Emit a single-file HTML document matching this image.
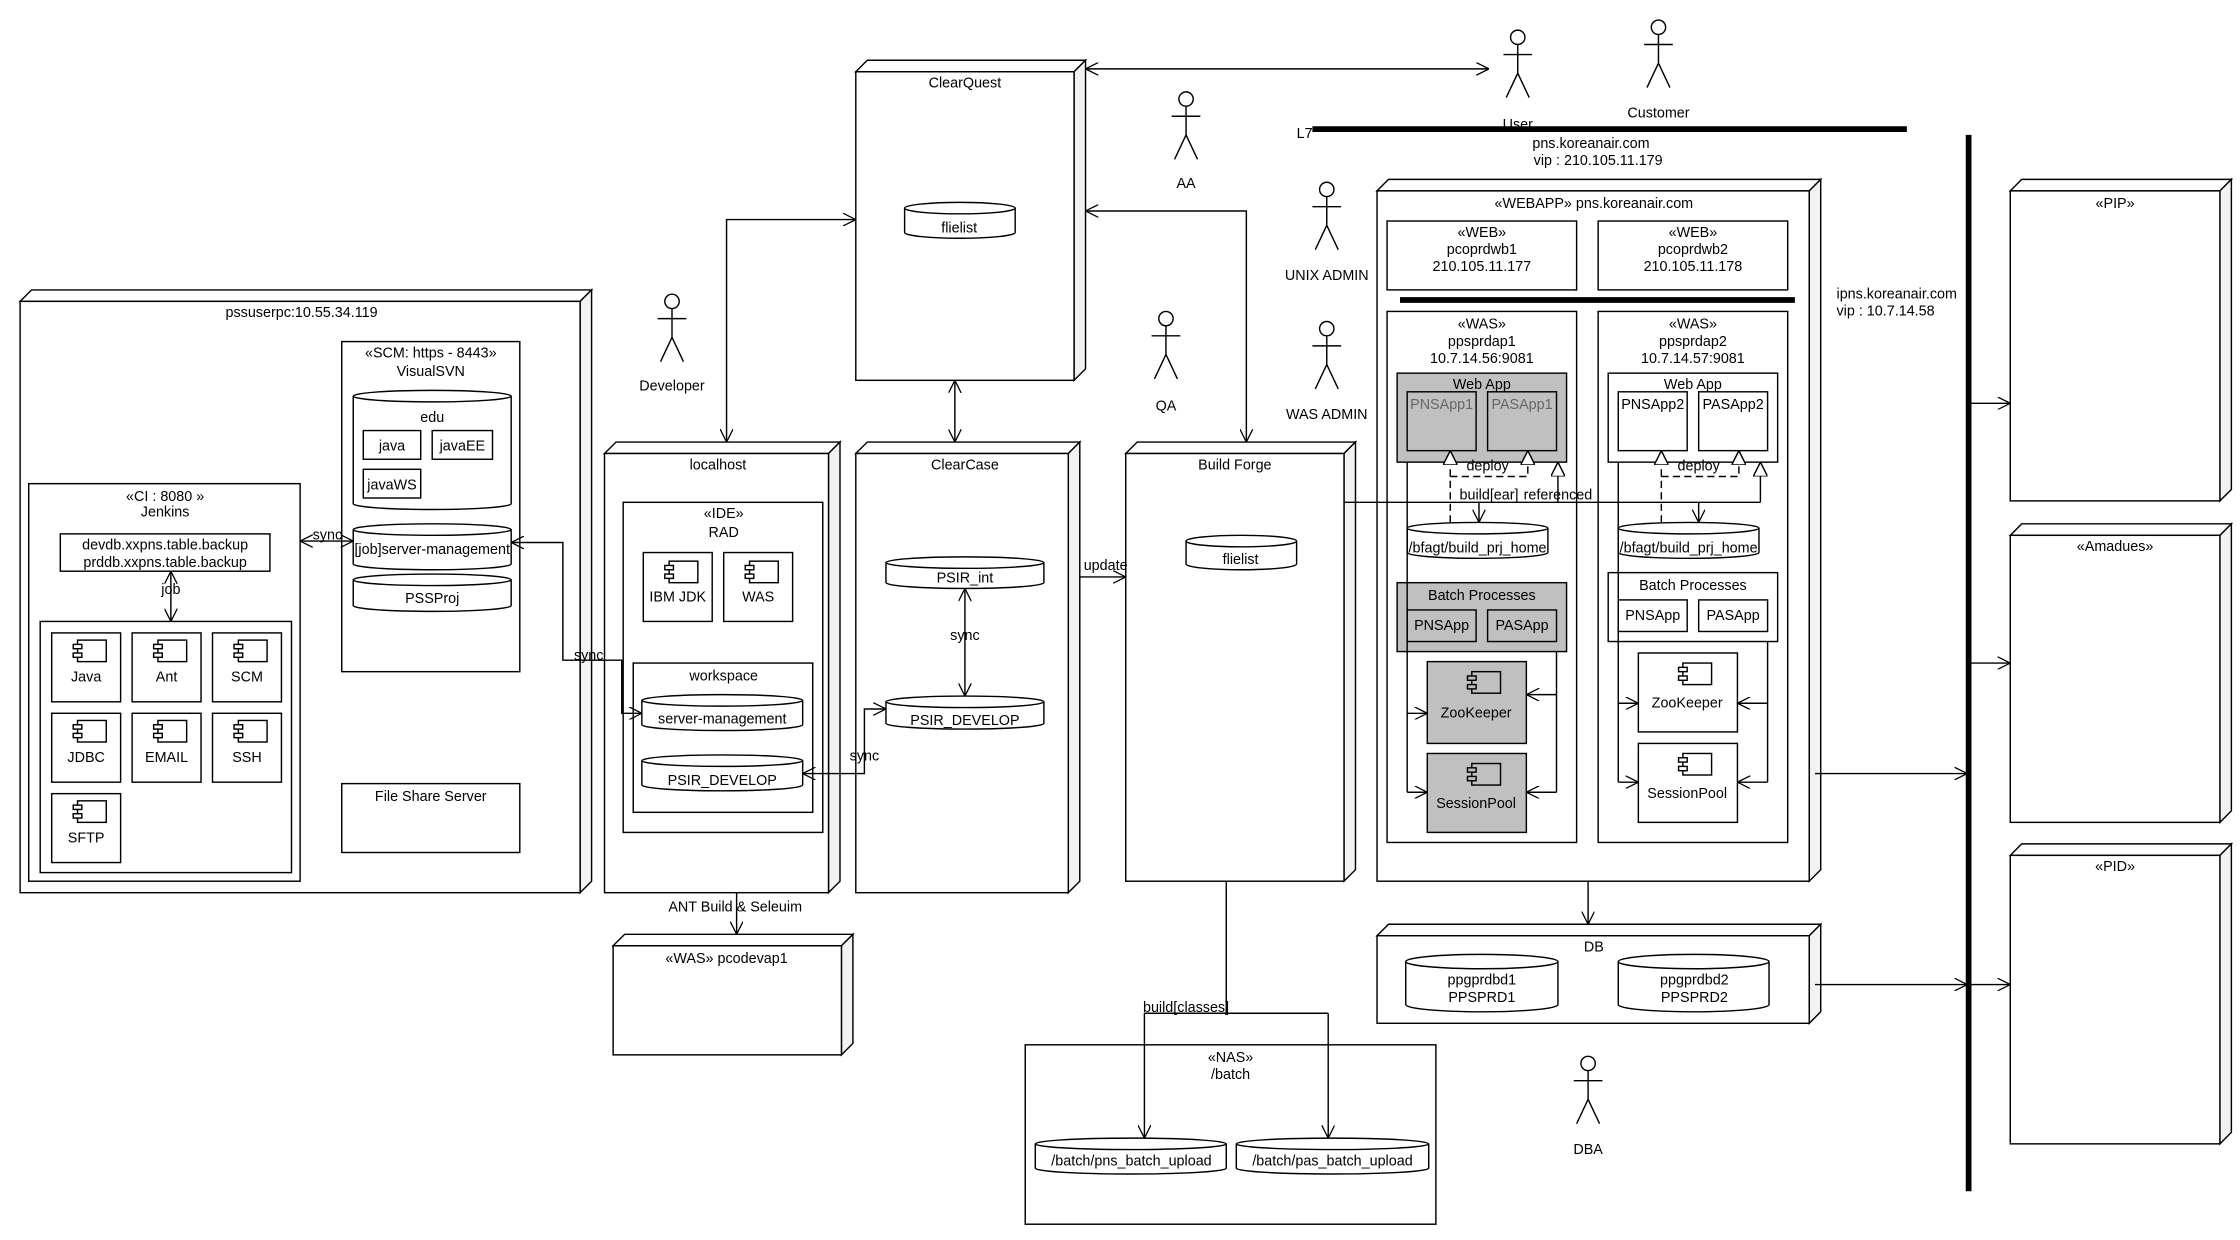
<!DOCTYPE html>
<html><head><meta charset="utf-8"><style>
html,body{margin:0;padding:0;background:#fff}
svg{display:block}
text{font-family:"Liberation Sans",sans-serif;font-size:10px;fill:#000}
.m{text-anchor:middle}
.g{fill:#666}
</style></head><body>
<svg width="2240" height="1240" viewBox="0 0 1560 864" preserveAspectRatio="none" xmlns="http://www.w3.org/2000/svg">
<defs>
<marker id="a" viewBox="0 0 10 10" refX="10" refY="5" markerWidth="9" markerHeight="9" orient="auto-start-reverse" markerUnits="userSpaceOnUse"><path d="M0,0 L10,5 L0,10" fill="none" stroke="#000" stroke-width="1"/></marker>
<marker id="h" viewBox="0 0 10 10" refX="10" refY="5" markerWidth="10" markerHeight="10" orient="auto" markerUnits="userSpaceOnUse"><path d="M0,0 L10,5 L0,10 Z" fill="#fff" stroke="#000" stroke-width="1"/></marker>
</defs>
<g fill="#fff" stroke="#000" stroke-width="1">
<!-- 3D nodes -->
<g id="nodes">
<polygon points="14,210 22,202 412,202 404,210"/><polygon points="404,210 412,202 412,614 404,622" fill="#f2f2f2"/><rect x="14" y="210" width="390" height="412"/>
<polygon points="421,316 429,308 585,308 577,316"/><polygon points="577,316 585,308 585,614 577,622" fill="#f2f2f2"/><rect x="421" y="316" width="156" height="306"/>
<polygon points="596,50 604,42 756,42 748,50"/><polygon points="748,50 756,42 756,257 748,265" fill="#f2f2f2"/><rect x="596" y="50" width="152" height="215"/>
<polygon points="596,316 604,308 752,308 744,316"/><polygon points="744,316 752,308 752,614 744,622" fill="#f2f2f2"/><rect x="596" y="316" width="148" height="306"/>
<polygon points="784,316 792,308 944,308 936,316"/><polygon points="936,316 944,308 944,606 936,614" fill="#f2f2f2"/><rect x="784" y="316" width="152" height="298"/>
<polygon points="427,659 435,651 594,651 586,659"/><polygon points="586,659 594,651 594,727 586,735" fill="#f2f2f2"/><rect x="427" y="659" width="159" height="76"/>
<polygon points="959,133 967,125 1268,125 1260,133"/><polygon points="1260,133 1268,125 1268,606 1260,614" fill="#f2f2f2"/><rect x="959" y="133" width="301" height="481"/>
<polygon points="959,652 967,644 1268,644 1260,652"/><polygon points="1260,652 1268,644 1268,705 1260,713" fill="#f2f2f2"/><rect x="959" y="652" width="301" height="61"/>
<polygon points="1400,133 1408,125 1554,125 1546,133"/><polygon points="1546,133 1554,125 1554,341 1546,349" fill="#f2f2f2"/><rect x="1400" y="133" width="146" height="216"/>
<polygon points="1400,373 1408,365 1554,365 1546,373"/><polygon points="1546,373 1554,365 1554,565 1546,573" fill="#f2f2f2"/><rect x="1400" y="373" width="146" height="200"/>
<polygon points="1400,596 1408,588 1554,588 1546,596"/><polygon points="1546,596 1554,588 1554,789 1546,797" fill="#f2f2f2"/><rect x="1400" y="596" width="146" height="201"/>
</g>
<!-- pssuserpc content -->
<rect x="238" y="238" width="124" height="230"/>
<path d="M246,276 A55,4 0 0 1 356,276 V351 A55,4 0 0 1 246,351 Z"/><path d="M246,276 A55,4 0 0 0 356,276" fill="none"/>
<rect x="253" y="300" width="40" height="20"/><rect x="301" y="300" width="42" height="20"/><rect x="253" y="327" width="40" height="20"/>
<path d="M246,369 A55,4 0 0 1 356,369 V393 A55,4 0 0 1 246,393 Z"/><path d="M246,369 A55,4 0 0 0 356,369" fill="none"/>
<path d="M246,404 A55,4 0 0 1 356,404 V422 A55,4 0 0 1 246,422 Z"/><path d="M246,404 A55,4 0 0 0 356,404" fill="none"/>
<rect x="20" y="337" width="189" height="277"/>
<rect x="42" y="372" width="146" height="26"/>
<rect x="28" y="433" width="175" height="175"/>
<rect x="36" y="441" width="48" height="48"/><rect x="92" y="441" width="48" height="48"/><rect x="148" y="441" width="48" height="48"/>
<rect x="36" y="497" width="48" height="48"/><rect x="92" y="497" width="48" height="48"/><rect x="148" y="497" width="48" height="48"/>
<rect x="36" y="553" width="48" height="48"/>
<g>
<rect x="54" y="446" width="20" height="15"/><rect x="51" y="449" width="6" height="3"/><rect x="51" y="455" width="6" height="3"/>
<rect x="110" y="446" width="20" height="15"/><rect x="107" y="449" width="6" height="3"/><rect x="107" y="455" width="6" height="3"/>
<rect x="166" y="446" width="20" height="15"/><rect x="163" y="449" width="6" height="3"/><rect x="163" y="455" width="6" height="3"/>
<rect x="54" y="502" width="20" height="15"/><rect x="51" y="505" width="6" height="3"/><rect x="51" y="511" width="6" height="3"/>
<rect x="110" y="502" width="20" height="15"/><rect x="107" y="505" width="6" height="3"/><rect x="107" y="511" width="6" height="3"/>
<rect x="166" y="502" width="20" height="15"/><rect x="163" y="505" width="6" height="3"/><rect x="163" y="511" width="6" height="3"/>
<rect x="54" y="558" width="20" height="15"/><rect x="51" y="561" width="6" height="3"/><rect x="51" y="567" width="6" height="3"/>
</g>
<rect x="238" y="546" width="124" height="48"/>
<!-- localhost content -->
<rect x="434" y="350" width="139" height="230"/>
<rect x="448" y="385" width="48" height="48"/><rect x="504" y="385" width="48" height="48"/>
<rect x="466" y="391" width="20" height="15"/><rect x="463" y="394" width="6" height="3"/><rect x="463" y="400" width="6" height="3"/>
<rect x="522" y="391" width="20" height="15"/><rect x="519" y="394" width="6" height="3"/><rect x="519" y="400" width="6" height="3"/>
<rect x="441" y="462" width="125" height="104"/>
<path d="M447,488 A56,4 0 0 1 559,488 V505 A56,4 0 0 1 447,505 Z"/><path d="M447,488 A56,4 0 0 0 559,488" fill="none"/>
<path d="M447,530 A56,4 0 0 1 559,530 V547 A56,4 0 0 1 447,547 Z"/><path d="M447,530 A56,4 0 0 0 559,530" fill="none"/>
<!-- ClearQuest/ClearCase/BuildForge content -->
<path d="M630,145 A38.5,4 0 0 1 707,145 V162 A38.5,4 0 0 1 630,162 Z"/><path d="M630,145 A38.5,4 0 0 0 707,145" fill="none"/>
<path d="M617,392 A55,4 0 0 1 727,392 V406 A55,4 0 0 1 617,406 Z"/><path d="M617,392 A55,4 0 0 0 727,392" fill="none"/>
<path d="M617,489 A55,4 0 0 1 727,489 V504 A55,4 0 0 1 617,504 Z"/><path d="M617,489 A55,4 0 0 0 727,489" fill="none"/>
<path d="M826,377 A38.5,4 0 0 1 903,377 V393 A38.5,4 0 0 1 826,393 Z"/><path d="M826,377 A38.5,4 0 0 0 903,377" fill="none"/>
<!-- NAS -->
<rect x="714" y="728" width="286" height="125"/>
<path d="M721,797 A66.5,4 0 0 1 854,797 V814 A66.5,4 0 0 1 721,814 Z"/><path d="M721,797 A66.5,4 0 0 0 854,797" fill="none"/>
<path d="M861,797 A67,4 0 0 1 995,797 V814 A67,4 0 0 1 861,814 Z"/><path d="M861,797 A67,4 0 0 0 995,797" fill="none"/>
<!-- DB -->
<path d="M979,670 A53,5 0 0 1 1085,670 V700 A53,5 0 0 1 979,700 Z"/><path d="M979,670 A53,5 0 0 0 1085,670" fill="none"/>
<path d="M1127,670 A52.5,5 0 0 1 1232,670 V700 A52.5,5 0 0 1 1127,700 Z"/><path d="M1127,670 A52.5,5 0 0 0 1232,670" fill="none"/>
<!-- WEBAPP content -->
<rect x="966" y="154" width="132" height="48"/><rect x="1113" y="154" width="132" height="48"/>
<rect x="966" y="217" width="132" height="370"/><rect x="1113" y="217" width="132" height="370"/>
<rect x="973" y="260" width="118" height="62" fill="#c0c0c0"/>
<rect x="980" y="273" width="48" height="41" fill="#c0c0c0"/><rect x="1036" y="273" width="48" height="41" fill="#c0c0c0"/>
<rect x="1120" y="260" width="118" height="62"/>
<rect x="1127" y="273" width="48" height="41"/><rect x="1183" y="273" width="48" height="41"/>
<path d="M980,368 A49,4 0 0 1 1078,368 V385 A49,4 0 0 1 980,385 Z"/><path d="M980,368 A49,4 0 0 0 1078,368" fill="none"/>
<path d="M1127,368 A49,4 0 0 1 1225,368 V385 A49,4 0 0 1 1127,385 Z"/><path d="M1127,368 A49,4 0 0 0 1225,368" fill="none"/>
<rect x="973" y="406" width="118" height="48" fill="#c0c0c0"/>
<rect x="980" y="425" width="48" height="22" fill="#c0c0c0"/><rect x="1036" y="425" width="48" height="22" fill="#c0c0c0"/>
<rect x="1120" y="399" width="118" height="48"/>
<rect x="1127" y="418" width="48" height="22"/><rect x="1183" y="418" width="48" height="22"/>
<rect x="994" y="461" width="69" height="57" fill="#c0c0c0"/><rect x="994" y="525" width="69" height="55" fill="#c0c0c0"/>
<rect x="1141" y="455" width="69" height="55"/><rect x="1141" y="518" width="69" height="55"/>
<g fill="#c0c0c0">
<rect x="1025" y="468" width="20" height="15"/><rect x="1022" y="471" width="6" height="3"/><rect x="1022" y="477" width="6" height="3"/>
<rect x="1025" y="532" width="20" height="15"/><rect x="1022" y="535" width="6" height="3"/><rect x="1022" y="541" width="6" height="3"/>
</g>
<rect x="1172" y="462" width="20" height="15"/><rect x="1169" y="465" width="6" height="3"/><rect x="1169" y="471" width="6" height="3"/>
<rect x="1172" y="525" width="20" height="15"/><rect x="1169" y="528" width="6" height="3"/><rect x="1169" y="534" width="6" height="3"/>
</g>

<!-- thick bars -->
<g stroke="#000" fill="none">
<line x1="975" y1="209" x2="1250" y2="209" stroke-width="4"/>
<line x1="914" y1="90" x2="1328" y2="90" stroke-width="4"/>
<line x1="1371" y1="94" x2="1371" y2="830" stroke-width="4"/>
</g>

<!-- connectors -->
<g stroke="#000" fill="none" stroke-width="1">
<line x1="119" y1="398" x2="119" y2="433" marker-start="url(#a)" marker-end="url(#a)"/>
<line x1="209" y1="377" x2="246" y2="377" marker-start="url(#a)" marker-end="url(#a)"/>
<polyline points="356,378 392,378 392,460 433,460 433,497 447,497" marker-start="url(#a)" marker-end="url(#a)"/>
<polyline points="596,153 506,153 506,308" marker-start="url(#a)" marker-end="url(#a)"/>
<line x1="665" y1="265" x2="665" y2="308" marker-start="url(#a)" marker-end="url(#a)"/>
<line x1="672" y1="410" x2="672" y2="485" marker-start="url(#a)" marker-end="url(#a)"/>
<polyline points="617,494 602,494 602,539 559,539" marker-start="url(#a)" marker-end="url(#a)"/>
<line x1="756" y1="48" x2="1037" y2="48" marker-start="url(#a)" marker-end="url(#a)"/>
<polyline points="756,147 868,147 868,308" marker-start="url(#a)" marker-end="url(#a)"/>
<line x1="752" y1="402" x2="784" y2="402" marker-end="url(#a)"/>
<line x1="513" y1="622" x2="513" y2="651" marker-end="url(#a)"/>
<polyline points="854,614 854,706"/>
<polyline points="797,706 925,706"/>
<line x1="797" y1="706" x2="797" y2="793" marker-end="url(#a)"/>
<line x1="925" y1="706" x2="925" y2="793" marker-end="url(#a)"/>
<line x1="1106" y1="614" x2="1106" y2="644" marker-end="url(#a)"/>
<line x1="1264" y1="686" x2="1370" y2="686" marker-end="url(#a)"/>
<line x1="1264" y1="539" x2="1370" y2="539" marker-end="url(#a)"/>
<line x1="1373" y1="281" x2="1400" y2="281" marker-end="url(#a)"/>
<line x1="1373" y1="462" x2="1400" y2="462" marker-end="url(#a)"/>
<line x1="1373" y1="686" x2="1400" y2="686" marker-end="url(#a)"/>
<!-- build[ear] -->
<polyline points="936,350 1226,350"/>
<line x1="1030" y1="350" x2="1030" y2="364" marker-end="url(#a)"/>
<line x1="1183" y1="350" x2="1183" y2="364" marker-end="url(#a)"/>
<line x1="1085" y1="350" x2="1085" y2="322" marker-end="url(#h)"/>
<line x1="1226" y1="350" x2="1226" y2="322" marker-end="url(#h)"/>
<!-- deploy dashed -->
<g stroke-dasharray="5,3">
<line x1="1010" y1="364" x2="1010" y2="314" marker-end="url(#h)"/>
<polyline points="1010,332 1064,332 1064,314" marker-end="url(#h)"/>
<line x1="1157" y1="364" x2="1157" y2="314" marker-end="url(#h)"/>
<polyline points="1157,332 1211,332 1211,314" marker-end="url(#h)"/>
</g>
<!-- internal WAS arrows -->
<polyline points="980,322 980,552"/>
<line x1="980" y1="497" x2="994" y2="497" marker-end="url(#a)"/>
<line x1="980" y1="552" x2="994" y2="552" marker-end="url(#a)"/>
<polyline points="1084,454 1084,552"/>
<line x1="1084" y1="484" x2="1063" y2="484" marker-end="url(#a)"/>
<line x1="1084" y1="552" x2="1063" y2="552" marker-end="url(#a)"/>
<polyline points="1127,322 1127,545"/>
<line x1="1127" y1="490" x2="1141" y2="490" marker-end="url(#a)"/>
<line x1="1127" y1="545" x2="1141" y2="545" marker-end="url(#a)"/>
<polyline points="1231,447 1231,545"/>
<line x1="1231" y1="490" x2="1210" y2="490" marker-end="url(#a)"/>
<line x1="1231" y1="545" x2="1210" y2="545" marker-end="url(#a)"/>
</g>

<!-- actors -->
<g stroke="#000" fill="#fff" stroke-width="1">
<g transform="translate(468,205)"><circle cx="0" cy="5" r="5"/><path d="M0,10 V30 M-10,17 H10 M-8,47 L0,30 L8,47" fill="none"/></g>
<g transform="translate(826,64)"><circle cx="0" cy="5" r="5"/><path d="M0,10 V30 M-10,17 H10 M-8,47 L0,30 L8,47" fill="none"/></g>
<g transform="translate(812,217)"><circle cx="0" cy="5" r="5"/><path d="M0,10 V30 M-10,17 H10 M-8,47 L0,30 L8,47" fill="none"/></g>
<g transform="translate(924,127)"><circle cx="0" cy="5" r="5"/><path d="M0,10 V30 M-10,17 H10 M-8,47 L0,30 L8,47" fill="none"/></g>
<g transform="translate(924,224)"><circle cx="0" cy="5" r="5"/><path d="M0,10 V30 M-10,17 H10 M-8,47 L0,30 L8,47" fill="none"/></g>
<g transform="translate(1057,21)"><circle cx="0" cy="5" r="5"/><path d="M0,10 V30 M-10,17 H10 M-8,47 L0,30 L8,47" fill="none"/></g>
<g transform="translate(1155,14)"><circle cx="0" cy="5" r="5"/><path d="M0,10 V30 M-10,17 H10 M-8,47 L0,30 L8,47" fill="none"/></g>
<g transform="translate(1106,736)"><circle cx="0" cy="5" r="5"/><path d="M0,10 V30 M-10,17 H10 M-8,47 L0,30 L8,47" fill="none"/></g>
</g>

<!-- text -->
<text class="m" x="210" y="221">pssuserpc:10.55.34.119</text>
<text class="m" x="300" y="249">«SCM: https - 8443»</text>
<text class="m" x="300" y="262">VisualSVN</text>
<text class="m" x="301" y="294">edu</text>
<text class="m" x="273" y="314">java</text>
<text class="m" x="322" y="314">javaEE</text>
<text class="m" x="273" y="341">javaWS</text>
<text class="m" x="301" y="386">[job]server-management</text>
<text class="m" x="301" y="420">PSSProj</text>
<text class="m" x="115" y="349">«CI : 8080 »</text>
<text class="m" x="115" y="360">Jenkins</text>
<text class="m" x="115" y="383">devdb.xxpns.table.backup</text>
<text class="m" x="115" y="395">prddb.xxpns.table.backup</text>
<text class="m" x="119" y="414">job</text>
<text class="m" x="228" y="376">sync</text>
<text class="m" x="410" y="460">sync</text>
<text class="m" x="60" y="475">Java</text><text class="m" x="116" y="475">Ant</text><text class="m" x="172" y="475">SCM</text>
<text class="m" x="60" y="531">JDBC</text><text class="m" x="116" y="531">EMAIL</text><text class="m" x="172" y="531">SSH</text>
<text class="m" x="60" y="587">SFTP</text>
<text class="m" x="300" y="558">File Share Server</text>
<text class="m" x="500" y="327">localhost</text>
<text class="m" x="504" y="361">«IDE»</text>
<text class="m" x="504" y="374">RAD</text>
<text class="m" x="472" y="419">IBM JDK</text>
<text class="m" x="528" y="419">WAS</text>
<text class="m" x="504" y="474">workspace</text>
<text class="m" x="503" y="504">server-management</text>
<text class="m" x="503" y="547">PSIR_DEVELOP</text>
<text class="m" x="468" y="272">Developer</text>
<text class="m" x="672" y="61">ClearQuest</text>
<text class="m" x="668" y="162">flielist</text>
<text class="m" x="672" y="327">ClearCase</text>
<text class="m" x="672" y="406">PSIR_int</text>
<text class="m" x="672" y="446">sync</text>
<text class="m" x="672" y="505">PSIR_DEVELOP</text>
<text class="m" x="602" y="530">sync</text>
<text class="m" x="770" y="397">update</text>
<text class="m" x="860" y="327">Build Forge</text>
<text class="m" x="864" y="393">flielist</text>
<text class="m" x="826" y="131">AA</text>
<text class="m" x="812" y="286">QA</text>
<text class="m" x="924" y="195">UNIX ADMIN</text>
<text class="m" x="924" y="292">WAS ADMIN</text>
<text class="m" x="1057" y="90">User</text>
<text class="m" x="1155" y="82">Customer</text>
<text x="903" y="96">L7</text>
<text class="m" x="1108" y="103">pns.koreanair.com</text>
<text class="m" x="1113" y="115">vip : 210.105.11.179</text>
<text x="1279" y="208">ipns.koreanair.com</text>
<text x="1279" y="220">vip : 10.7.14.58</text>
<text class="m" x="512" y="635">ANT Build &amp; Seleuim</text>
<text class="m" x="506" y="671">«WAS» pcodevap1</text>
<text class="m" x="826" y="705">build[classes]</text>
<text class="m" x="857" y="740">«NAS»</text>
<text class="m" x="857" y="752">/batch</text>
<text class="m" x="788" y="812">/batch/pns_batch_upload</text>
<text class="m" x="928" y="812">/batch/pas_batch_upload</text>
<text class="m" x="1106" y="804">DBA</text>
<text class="m" x="1110" y="663">DB</text>
<text class="m" x="1032" y="686">ppgprdbd1</text>
<text class="m" x="1032" y="698">PPSPRD1</text>
<text class="m" x="1180" y="686">ppgprdbd2</text>
<text class="m" x="1180" y="698">PPSPRD2</text>
<text class="m" x="1110" y="145">«WEBAPP» pns.koreanair.com</text>
<text class="m" x="1032" y="165">«WEB»</text><text class="m" x="1032" y="177">pcoprdwb1</text><text class="m" x="1032" y="189">210.105.11.177</text>
<text class="m" x="1179" y="165">«WEB»</text><text class="m" x="1179" y="177">pcoprdwb2</text><text class="m" x="1179" y="189">210.105.11.178</text>
<text class="m" x="1032" y="229">«WAS»</text><text class="m" x="1032" y="241">ppsprdap1</text><text class="m" x="1032" y="253">10.7.14.56:9081</text>
<text class="m" x="1179" y="229">«WAS»</text><text class="m" x="1179" y="241">ppsprdap2</text><text class="m" x="1179" y="253">10.7.14.57:9081</text>
<text class="m" x="1032" y="271">Web App</text>
<text class="m g" x="1004" y="285">PNSApp1</text><text class="m g" x="1060" y="285">PASApp1</text>
<text class="m" x="1179" y="271">Web App</text>
<text class="m" x="1151" y="285">PNSApp2</text><text class="m" x="1207" y="285">PASApp2</text>
<text class="m" x="1036" y="328">deploy</text>
<text class="m" x="1183" y="328">deploy</text>
<text class="m" x="1037" y="348">build[ear]</text>
<text class="m" x="1085" y="348">referenced</text>
<text class="m" x="1029" y="385">/bfagt/build_prj_home</text>
<text class="m" x="1176" y="385">/bfagt/build_prj_home</text>
<text class="m" x="1032" y="418">Batch Processes</text>
<text class="m" x="1004" y="439">PNSApp</text><text class="m" x="1060" y="439">PASApp</text>
<text class="m" x="1179" y="411">Batch Processes</text>
<text class="m" x="1151" y="432">PNSApp</text><text class="m" x="1207" y="432">PASApp</text>
<text class="m" x="1028" y="500">ZooKeeper</text>
<text class="m" x="1028" y="563">SessionPool</text>
<text class="m" x="1175" y="493">ZooKeeper</text>
<text class="m" x="1175" y="556">SessionPool</text>
<text class="m" x="1473" y="145">«PIP»</text>
<text class="m" x="1473" y="384">«Amadues»</text>
<text class="m" x="1473" y="607">«PID»</text>
</svg>
</body></html>
